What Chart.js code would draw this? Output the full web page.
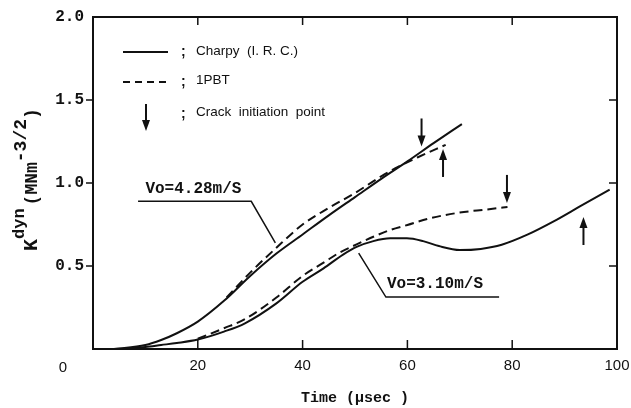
<!DOCTYPE html>
<html>
<head>
<meta charset="utf-8">
<script src="https://cdn.jsdelivr.net/npm/chart.js@4.4.1/dist/chart.umd.min.js"></script>
<style>
  html, body { margin: 0; padding: 0; background: #fff; }
  #wrap { width: 631px; height: 408px; }
</style>
</head>
<body>
<div id="wrap"><canvas id="kdynChart" width="631" height="408"></canvas></div>
<script>
/* ---------------- DATA ---------------- */

// Vo = 4.28 m/s
const timeCharpyHigh = [4, 10, 13, 16, 20, 25, 30, 35, 40, 45, 50, 55, 60, 65, 70.4];
const kCharpyHigh    = [0, 0.024, 0.054, 0.095, 0.165, 0.29, 0.44, 0.575, 0.69, 0.805, 0.915, 1.025, 1.13, 1.24, 1.355];
const time1pbtHigh   = [25.5, 30, 35, 40, 45, 50, 55, 58.4, 62, 67.3];
const k1pbtHigh      = [0.31, 0.46, 0.61, 0.75, 0.85, 0.94, 1.04, 1.10, 1.155, 1.23];

// Vo = 3.10 m/s
const timeCharpyLow = [6, 10, 13, 16, 20, 25, 29, 35, 40, 44, 47.8, 50.3, 53.5, 56.7, 59.9, 63, 66, 70, 74, 78, 83, 88, 93, 98.6];
const kCharpyLow    = [0, 0.012, 0.024, 0.036, 0.057, 0.105, 0.155, 0.275, 0.405, 0.486, 0.57, 0.615, 0.65, 0.667, 0.667, 0.65, 0.62, 0.596, 0.603, 0.628, 0.69, 0.77, 0.86, 0.96];
const time1pbtLow   = [20, 25, 29, 35, 40, 44, 47, 50.3, 53.5, 56.7, 60, 64, 70, 75, 79.1];
const k1pbtLow      = [0.062, 0.125, 0.18, 0.31, 0.44, 0.52, 0.58, 0.63, 0.676, 0.717, 0.747, 0.785, 0.822, 0.84, 0.855];

// crack initiation arrows
const crackTime = [62.7, 66.8, 79.0, 93.6];
const crackK    = [1.22, 1.205, 0.88, 0.795];
const crackDir  = ['down', 'up', 'down', 'up'];

// axis ticks
const timeTicks = [0, 20, 40, 60, 80, 100];
const kTicks    = [0, 0.5, 1.0, 1.5, 2.0];

const toPoints = (xs, ys) => xs.map((x, i) => ({ x: x, y: ys[i] }));

/* ---------------- DRAW HELPERS ---------------- */

const INK = '#111';

function drawArrow(ctx, x, tipY, dir, len) {
  const s = dir === 'down' ? -1 : 1;   // tail offset direction
  ctx.save();
  ctx.strokeStyle = INK;
  ctx.fillStyle = INK;
  ctx.lineWidth = 2;
  ctx.beginPath();
  ctx.moveTo(x, tipY + s * len);
  ctx.lineTo(x, tipY + s * 8);
  ctx.stroke();
  ctx.beginPath();
  ctx.moveTo(x, tipY);
  ctx.lineTo(x - 4, tipY + s * 11);
  ctx.lineTo(x + 4, tipY + s * 11);
  ctx.closePath();
  ctx.fill();
  ctx.restore();
}

/* ---------------- FRAME / TICKS / LABELS PLUGIN ---------------- */

const decorPlugin = {
  id: 'decor',
  afterDraw(chart) {
    const ctx = chart.ctx;
    const a = chart.chartArea;
    const xs = chart.scales.x;
    const ys = chart.scales.y;

    ctx.save();
    ctx.strokeStyle = INK;

    // frame
    ctx.lineWidth = 2;
    ctx.strokeRect(a.left, a.top, a.right - a.left, a.bottom - a.top);

    // tick marks
    ctx.lineWidth = 1.5;
    ctx.beginPath();
    timeTicks.slice(1, -1).forEach(v => {
      const px = xs.getPixelForValue(v);
      ctx.moveTo(px, a.bottom); ctx.lineTo(px, a.bottom - 9);
      ctx.moveTo(px, a.top);    ctx.lineTo(px, a.top + 8);
    });
    kTicks.slice(1, -1).forEach(v => {
      const py = ys.getPixelForValue(v);
      ctx.moveTo(a.left, py);  ctx.lineTo(a.left - 7, py);
      ctx.moveTo(a.right, py); ctx.lineTo(a.right - 8, py);
    });
    ctx.stroke();

    // origin label
    ctx.fillStyle = INK;
    ctx.font = '15px "Liberation Sans"';
    ctx.textAlign = 'center';
    ctx.textBaseline = 'middle';
    ctx.fillText('0', a.left - 30, a.bottom + 19);

    // y axis title: K^dyn (MNm^-3/2)
    ctx.save();
    ctx.translate(37, 251);
    ctx.rotate(-Math.PI / 2);
    ctx.textAlign = 'left';
    ctx.textBaseline = 'alphabetic';
    let cx = 0;
    const piece = (txt, font, dy) => {
      ctx.font = font;
      ctx.fillText(txt, cx, dy);
      cx += ctx.measureText(txt).width;
    };
    piece('K', 'bold 20px "Liberation Mono"', 0);
    piece('dyn', 'bold 17px "Liberation Mono"', -13);
    cx += 3;
    piece('(MNm', 'bold 18px "Liberation Mono"', 0);
    piece('-3/2', 'bold 18px "Liberation Mono"', -11);
    piece(')', 'bold 18px "Liberation Mono"', 0);
    ctx.restore();

    // legend
    ctx.lineWidth = 2;
    ctx.beginPath();
    ctx.moveTo(123, 52); ctx.lineTo(168, 52);
    ctx.stroke();
    ctx.setLineDash([7, 5]);
    ctx.beginPath();
    ctx.moveTo(123, 82); ctx.lineTo(168, 82);
    ctx.stroke();
    ctx.setLineDash([]);
    drawArrow(ctx, 146, 131, 'down', 27);

    ctx.textAlign = 'left';
    ctx.textBaseline = 'middle';
    ctx.font = 'bold 14px "Liberation Sans"';
    ctx.fillText(';', 181, 52);
    ctx.fillText(';', 181, 82);
    ctx.fillText(';', 181, 114);
    ctx.font = '13.5px "Liberation Sans"';
    ctx.fillText('Charpy  (I. R. C.)', 196, 51);
    ctx.fillText('1PBT', 196, 80);
    ctx.fillText('Crack  initiation  point', 196, 112);

    // curve annotations (anchored in data units)
    ctx.lineWidth = 1.5;
    ctx.beginPath();
    ctx.moveTo(xs.getPixelForValue(8.6), ys.getPixelForValue(0.89));
    ctx.lineTo(xs.getPixelForValue(30.2), ys.getPixelForValue(0.89));
    ctx.lineTo(xs.getPixelForValue(34.8), ys.getPixelForValue(0.64));
    ctx.moveTo(xs.getPixelForValue(50.7), ys.getPixelForValue(0.578));
    ctx.lineTo(xs.getPixelForValue(55.9), ys.getPixelForValue(0.313));
    ctx.lineTo(xs.getPixelForValue(77.5), ys.getPixelForValue(0.313));
    ctx.stroke();

    ctx.font = 'bold 16px "Liberation Mono"';
    ctx.textBaseline = 'alphabetic';
    ctx.fillText('Vo=4.28m/S', xs.getPixelForValue(10.0), ys.getPixelForValue(0.94));
    ctx.fillText('Vo=3.10m/S', xs.getPixelForValue(56.1), ys.getPixelForValue(0.365));

    // crack initiation arrows
    crackTime.forEach((t, i) => {
      drawArrow(ctx, xs.getPixelForValue(t), ys.getPixelForValue(crackK[i]), crackDir[i], 28);
    });

    ctx.restore();
  }
};

/* ---------------- CHART ---------------- */

const lineStyle = (dashed) => ({
  borderColor: INK,
  borderWidth: 2,
  borderDash: dashed ? [9, 5] : [],
  pointRadius: 0,
  fill: false,
  cubicInterpolationMode: 'monotone'
});

const ctx = document.getElementById('kdynChart').getContext('2d');

new Chart(ctx, {
  type: 'line',
  data: {
    datasets: [
      Object.assign({ label: 'Charpy 4.28', data: toPoints(timeCharpyHigh, kCharpyHigh) }, lineStyle(false)),
      Object.assign({ label: '1PBT 4.28',   data: toPoints(time1pbtHigh, k1pbtHigh) },     lineStyle(true)),
      Object.assign({ label: 'Charpy 3.10', data: toPoints(timeCharpyLow, kCharpyLow) },   lineStyle(false)),
      Object.assign({ label: '1PBT 3.10',   data: toPoints(time1pbtLow, k1pbtLow) },       lineStyle(true))
    ]
  },
  options: {
    responsive: false,
    animation: false,
    layout: { padding: { top: 17, right: 14, left: 0, bottom: 0 } },
    plugins: {
      legend: { display: false },
      tooltip: { enabled: false }
    },
    scales: {
      x: {
        type: 'linear',
        min: 0,
        max: 100,
        afterFit: s => { s.height = 59; s.paddingLeft = 0; s.paddingRight = 0; },
        afterBuildTicks: s => { s.ticks = timeTicks.map(v => ({ value: v })); },
        grid: { display: false, drawTicks: false },
        border: { display: false },
        ticks: {
          padding: 8,
          color: INK,
          font: { family: 'Liberation Sans', size: 15 },
          maxRotation: 0,
          autoSkip: false,
          callback: v => (v === 0 ? '' : String(v))
        },
        title: {
          display: true,
          text: 'Time (\u00b5sec )',
          color: INK,
          font: { family: 'Liberation Mono', size: 15, weight: 'bold' },
          padding: { top: 0, bottom: 1 }
        }
      },
      y: {
        type: 'linear',
        min: 0,
        max: 2,
        afterFit: s => { s.width = 93; s.paddingTop = 0; s.paddingBottom = 0; },
        afterBuildTicks: s => { s.ticks = kTicks.map(v => ({ value: v })); },
        grid: { display: false, drawTicks: false },
        border: { display: false },
        ticks: {
          padding: 9,
          color: INK,
          font: { family: 'Liberation Mono', size: 16, weight: 'bold' },
          autoSkip: false,
          callback: v => (v === 0 ? '' : v.toFixed(1))
        }
      }
    }
  },
  plugins: [decorPlugin]
});
</script>
</body>
</html>
